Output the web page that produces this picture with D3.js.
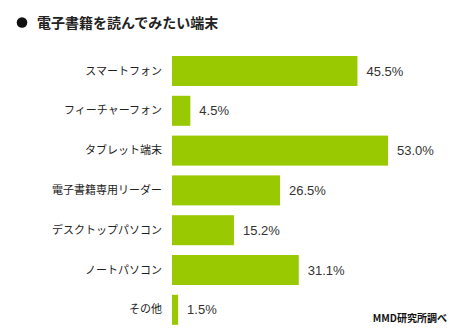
<!DOCTYPE html>
<html><head><meta charset="utf-8">
<script src="https://cdn.jsdelivr.net/npm/d3@7"></script>
<style>body{margin:0;background:#fff}svg{display:block}</style>
</head><body>
<svg id="c" width="459" height="335"></svg>
<script>
const categories = ["スマートフォン","フィーチャーフォン","タブレット端末","電子書籍専用リーダー","デスクトップパソコン","ノートパソコン","その他"];
const values = [45.5, 4.5, 53.0, 26.5, 15.2, 31.1, 1.5];
const valueLabels = ["45.5%","4.5%","53.0%","26.5%","15.2%","31.1%","1.5%"];
const title = "電子書籍を読んでみたい端末";
const source = "MMD研究所調べ";

const svg = d3.select("#c");
const font = "'Noto Sans CJK JP', 'DejaVu Sans', sans-serif";
const x = d3.scaleLinear().domain([0, 53]).range([172, 388]);
const y = d3.scaleBand().domain(categories).range([56, 324.8]).paddingInner(0.246).paddingOuter(0);

svg.append("circle").attr("cx", 22).attr("cy", 22.5).attr("r", 5.3).attr("fill", "#111");
svg.append("text").attr("x", 37).attr("y", 27.5).attr("font-family", font).attr("font-size", 14)
  .attr("font-weight", "bold").attr("fill", "#222").text(title);

svg.selectAll("rect.bar").data(values).join("rect").attr("class","bar")
  .attr("x", x(0)).attr("y", (d,i)=>y(categories[i]))
  .attr("width", d=>x(d)-x(0)).attr("height", y.bandwidth()).attr("fill", "#99c900");

const yAxis = d3.axisLeft(y).tickSize(0).tickPadding(10);
const ga = svg.append("g").attr("transform", "translate(172,0)").call(yAxis);
ga.select(".domain").remove();
ga.selectAll("text").attr("font-family", font).attr("font-size", 11).attr("fill", "#222");

svg.selectAll("text.val").data(values).join("text").attr("class","val")
  .attr("x", d=>x(d)+9).attr("y", (d,i)=>y(categories[i])+y.bandwidth()/2)
  .attr("dy","0.36em").attr("font-family", "'Liberation Sans', Arial, sans-serif").attr("font-size", 13)
  .attr("fill", "#333").text((d,i)=>valueLabels[i]);

svg.append("text").attr("x", 447).attr("y", 321.5).attr("text-anchor","end")
  .attr("font-family", font).attr("font-size", 10).attr("font-weight","bold").attr("fill","#111").text(source);
</script>
</body></html>
